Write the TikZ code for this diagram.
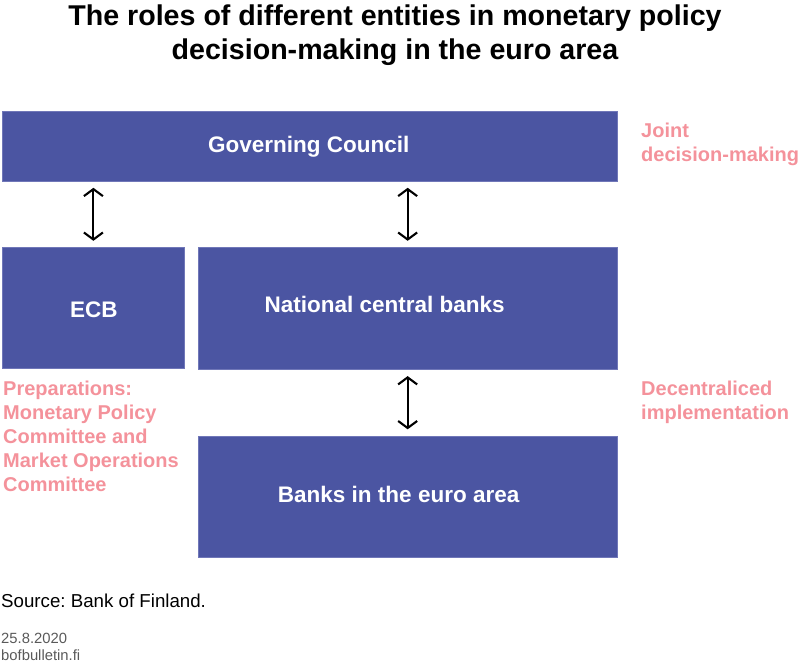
\documentclass[tikz,border=0pt]{standalone}
\usepackage{fontspec}
\setmainfont{Liberation Sans}
\usetikzlibrary{arrows.meta,calc}
\frenchspacing
\definecolor{boxfill}{HTML}{4B55A2}
\definecolor{boxedge}{HTML}{7077B8}
\definecolor{pinktext}{HTML}{F4929B}
\definecolor{graytext}{HTML}{595959}
\tikzset{
  entity/.style={fill=boxfill, draw=boxedge, line width=0.8pt, inner sep=0pt, anchor=north west},
  boxtext/.style={text=white, font=\bfseries\fontsize{22.5}{27}\selectfont, inner sep=0pt, anchor=base},
  note/.style={text=pinktext, font=\bfseries\fontsize{20}{24.5}\selectfont, inner sep=0pt, anchor=base west, align=left},
  link/.style={black, line width=2.1pt, {Straight Barb[length=7pt,width=19pt]}-{Straight Barb[length=7pt,width=19pt]}, shorten <=6.5pt, shorten >=6.5pt}
}
\begin{document}
\begin{tikzpicture}[x=1pt,y=-1pt]
\useasboundingbox (0,0) rectangle (800,666);
% title (base anchor = baseline of last line)
\node[anchor=base, align=center, inner sep=0pt, font=\bfseries\fontsize{28.6}{34}\selectfont] (title) at (395,60)
  {The roles of different entities in monetary policy\\decision-making in the euro area};
% boxes
\node[entity, minimum width=614.5pt, minimum height=69pt] (gc) at (2,111.5) {};
\node[entity, minimum width=182pt, minimum height=121pt] (ecb) at (2,247.3) {};
\node[entity, minimum width=418.5pt, minimum height=121.5pt] (ncb) at (198,247.3) {};
\node[entity, minimum width=418.5pt, minimum height=121.5pt] (banks) at (198,435.8) {};
% box texts
\node[boxtext] (gct) at ($(gc.center)+(-1,6.5)$) {Governing Council};
\node[boxtext] (ecbt) at ($(ecb.center)+(0.5,9.5)$) {ECB};
\node[boxtext] (ncbt) at ($(ncb.center)+(-23,4)$) {National central banks};
\node[boxtext] (bankst) at ($(banks.center)+(-9,6)$) {Banks in the euro area};
% arrows
\draw[link] (ecb.north |- gc.south) -- (ecb.north);
\draw[link] (ncb.north |- gc.south) -- (ncb.north);
\draw[link] (ncb.south) -- (banks.north);
% notes
\node[note] (joint) at (641,161.5) {Joint\\decision-making};
\node[note] (decent) at (641,419.5) {Decentraliced\\implementation};
\node[note, font=\bfseries\fontsize{20}{24}\selectfont] (prep) at (3,491) {Preparations:\\Monetary Policy\\Committee and\\Market Operations\\Committee};
% footer
\node[anchor=base west, inner sep=0pt, font=\fontsize{18.7}{22}\selectfont] (source) at (1,607) {Source: Bank of Finland.};
\node[anchor=base west, inner sep=0pt, align=left, text=graytext, font=\fontsize{14.8}{17}\selectfont] (date) at (1,660) {25.8.2020\\bofbulletin.fi};
\end{tikzpicture}
\end{document}
